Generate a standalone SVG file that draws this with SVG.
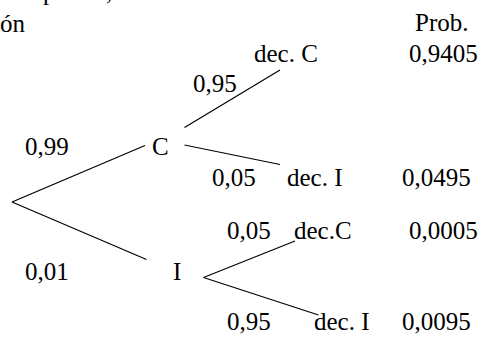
<svg xmlns="http://www.w3.org/2000/svg" width="483" height="347" viewBox="0 0 483 347">
<style>
text{font-family:"Liberation Serif","Times New Roman",serif;font-size:25px;fill:#000}
.ln{stroke:#000;stroke-width:1.2;fill:none}
</style>
<rect width="483" height="347" fill="#fff"/>
<g id="header">
<text x="43" y="0">p</text>
<text x="106" y="0">,</text>
<text x="0" y="32">ón</text>
<text x="415" y="31">Prob.</text>
</g>
<g id="connectors">
<line class="ln" x1="12" y1="202" x2="145" y2="145.5"/>
<line class="ln" x1="12" y1="202" x2="146.5" y2="259.5"/>
<line class="ln" x1="184.5" y1="127.5" x2="280" y2="70"/>
<line class="ln" x1="184.5" y1="145" x2="280" y2="164.5"/>
<line class="ln" x1="203.5" y1="277.5" x2="295" y2="241"/>
<line class="ln" x1="203.5" y1="277.5" x2="318.5" y2="315"/>
</g>
<g id="node-C"><text x="152" y="155">C</text></g>
<g id="node-I"><text x="173" y="280">I</text></g>
<g id="node-CC"><text x="254" y="62">dec. C</text><text x="409" y="62">0,9405</text></g>
<g id="node-CI"><text x="287" y="186">dec. I</text><text x="402" y="186">0,0495</text></g>
<g id="node-IC"><text x="294" y="239">dec.C</text><text x="409" y="239">0,0005</text></g>
<g id="node-II"><text x="314" y="330">dec. I</text><text x="402" y="330">0,0095</text></g>
<g id="labels">
<text x="25" y="155">0,99</text>
<text x="25" y="280">0,01</text>
<text x="193" y="92">0,95</text>
<text x="212" y="186">0,05</text>
<text x="227" y="239">0,05</text>
<text x="227" y="330">0,95</text>
</g>
</svg>
